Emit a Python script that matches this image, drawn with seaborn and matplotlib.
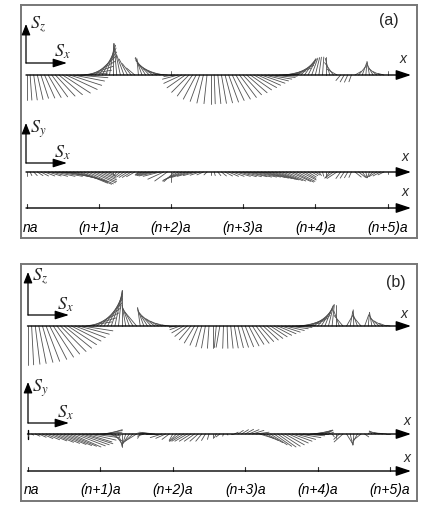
import numpy as np
import pandas as pd
import matplotlib
matplotlib.use("Agg")
import matplotlib.pyplot as plt
import seaborn as sns

sns.set_theme(style="white")
plt.rcParams["font.family"] = ["Liberation Sans", "DejaVu Sans"]
plt.rcParams["mathtext.fontset"] = "stix"

# ---------------- data ----------------
tick_labels = ["na", "(n+1)a", "(n+2)a", "(n+3)a", "(n+4)a", "(n+5)a"]
site_spacing = 0.05  # lattice site spacing in units of a

# panel (a): in-plane (x-z) angle of spin projection [deg], its length, and S_y
theta_xz_a = [-90, -86, -82, -77, -72, -66, -60, -54, -47, -40,
              -33, -25, -18, -11, -5, 4, 10, 19, 30, 42,
              52, 63, 72, 81, 90, 95, 102, 110, 118, 128,
              140, 95, 110, 122, 133, 143, 152, 160, 168, 175,
              90, -172, -165, -155, -145, -135, -126, -118, -110, -103,
              -96, -90, -88, -84, -80, -75, -70, -65, -59, -53,
              -47, -41, -35, -29, -24, -19, -14, -10, -6, -3,
              2, 6, 12, 18, 26, 35, 45, 55, 63, 70,
              76, 82, 86, 90, 105, 125, 150, -130, -120, -115,
              -110, 30, 50, 70, 85, 100, 120, 140, 155, 165,
              90]
rho_xz_a = [0.70, 0.70, 0.70, 0.70, 0.68, 0.70, 0.72, 0.75, 0.80, 0.85,
            0.92, 0.95, 0.93, 0.88, 0.86, 0.75, 0.77, 0.75, 0.77, 0.80,
            0.81, 0.84, 0.87, 0.88, 0.90, 0.82, 0.72, 0.60, 0.50, 0.40,
            0.30, 0.45, 0.52, 0.55, 0.55, 0.55, 0.55, 0.50, 0.45, 0.35,
            0.12, 0.30, 0.45, 0.55, 0.62, 0.68, 0.72, 0.76, 0.78, 0.80,
            0.80, 0.80, 0.80, 0.80, 0.80, 0.80, 0.80, 0.78, 0.78, 0.78,
            0.75, 0.75, 0.72, 0.72, 0.70, 0.70, 0.68, 0.66, 0.65, 0.60,
            0.55, 0.55, 0.55, 0.60, 0.62, 0.60, 0.60, 0.55, 0.50, 0.50,
            0.50, 0.50, 0.50, 0.50, 0.48, 0.42, 0.32, 0.20, 0.22, 0.22,
            0.20, 0.20, 0.30, 0.35, 0.38, 0.36, 0.33, 0.28, 0.22, 0.17,
            0.12]
sy_a = [-0.10, -0.10, -0.10, -0.10, -0.11, -0.11, -0.11, -0.12, -0.12, -0.12,
        -0.12, -0.17, -0.21, -0.24, -0.27, -0.31, -0.34, -0.33, -0.30, -0.27,
        -0.22, -0.17, -0.12, -0.08, -0.05, -0.10, -0.12, -0.14, -0.15, -0.15,
        -0.13, -0.05, -0.06, -0.08, -0.09, -0.10, -0.11, -0.12, -0.20, -0.25,
        -0.28, -0.27, -0.25, -0.22, -0.18, -0.15, -0.12, -0.10, -0.09, -0.08,
        -0.08, -0.08, -0.10, -0.10, -0.11, -0.11, -0.12, -0.12, -0.12, -0.13,
        -0.13, -0.13, -0.14, -0.14, -0.14, -0.15, -0.17, -0.18, -0.20, -0.21,
        -0.22, -0.24, -0.25, -0.26, -0.28, -0.26, -0.22, -0.18, -0.14, -0.10,
        -0.08, -0.10, -0.12, -0.14, -0.16, -0.17, -0.18, -0.18, -0.17, -0.16,
        -0.15, -0.14, -0.15, -0.16, -0.16, -0.16, -0.15, -0.13, -0.11, -0.08,
        -0.05]

# panel (b)
theta_xz_b = [-90, -87, -83, -79, -74, -69, -63, -57, -51, -45,
              -39, -33, -27, -21, -15, -9, 9, 17, 27, 37,
              47, 56, 64, 71, 78, 84, 90, 100, 110, 120,
              130, 98, 110, 122, 132, 142, 150, 158, 165, 172,
              180, -170, -160, -150, -140, -130, -121, -113, -106, -100,
              -94, -90, -95, -100, -92, -88, -84, -80, -76, -72,
              -68, -63, -58, -53, -48, -43, -38, -33, -28, -23,
              -18, -13, -8, -4, 2, 8, 14, 20, 28, 38,
              48, 58, 68, 76, 84, 90, 110, 130, 60, 80,
              92, 110, 130, 70, 85, 100, 120, 138, 150, 160,
              170]
rho_xz_b = [1.08, 1.08, 1.07, 1.06, 1.05, 1.05, 1.04, 1.03, 1.00, 1.00,
            0.98, 0.95, 0.92, 0.90, 0.88, 0.86, 0.73, 0.77, 0.80, 0.84,
            0.88, 0.91, 0.93, 0.955, 0.98, 0.99, 1.00, 0.60, 0.60, 0.55,
            0.50, 0.52, 0.52, 0.50, 0.48, 0.45, 0.40, 0.35, 0.28, 0.20,
            0.10, 0.20, 0.30, 0.38, 0.45, 0.50, 0.55, 0.58, 0.60, 0.62,
            0.62, 0.60, 0.60, 0.60, 0.62, 0.62, 0.62, 0.62, 0.62, 0.62,
            0.62, 0.62, 0.60, 0.60, 0.58, 0.57, 0.56, 0.55, 0.55, 0.55,
            0.55, 0.55, 0.55, 0.55, 0.55, 0.60, 0.62, 0.62, 0.62, 0.60,
            0.60, 0.60, 0.60, 0.60, 0.60, 0.58, 0.45, 0.38, 0.35, 0.42,
            0.45, 0.40, 0.35, 0.33, 0.38, 0.38, 0.35, 0.32, 0.28, 0.22,
            0.10]
sy_b = [-0.05, -0.03, -0.06, -0.09, -0.125, -0.16, -0.19, -0.23, -0.26, -0.29,
        -0.32, -0.34, -0.36, -0.33, -0.30, -0.27, -0.22, -0.17, -0.10, -0.05,
        0.05, 0.10, 0.12, -0.20, -0.28, -0.34, -0.36, -0.34, -0.30, -0.25,
        -0.20, -0.12, -0.06, 0.03, 0.05, 0.04, 0.00, -0.10, -0.12, -0.15,
        -0.18, -0.20, -0.20, -0.20, -0.20, -0.20, -0.20, -0.20, -0.20, -0.18,
        -0.15, -0.12, -0.10, -0.08, -0.06, -0.03, 0.00, 0.05, 0.10, 0.12,
        0.13, 0.12, 0.10, 0.05, -0.12, -0.18, -0.24, -0.30, -0.34, -0.36,
        -0.34, -0.30, -0.25, -0.20, -0.15, -0.10, -0.05, 0.00, 0.05, 0.08,
        0.10, 0.11, 0.10, 0.05, -0.08, -0.12, -0.15, -0.22, -0.28, -0.31,
        -0.30, -0.25, -0.18, -0.08, 0.04, 0.08, 0.08, 0.06, 0.04, 0.02,
        0.00]

# ---------------- figure ----------------
W, H = 436, 523
fig = plt.figure(figsize=(W / 100, H / 100), dpi=100)
NEEDLE_COLOR = "#505050"
L = 36.0  # px per unit spin component


def make_panel(frame, x0, ppa):
    l, t, r, b = frame
    ax = fig.add_axes([l / W, 1 - b / H, (r - l) / W, (b - t) / H])
    ax.set_facecolor("white")
    for s in ax.spines.values():
        s.set_visible(True)
        s.set_color("#777777")
        s.set_linewidth(1.4)
    X = lambda px: (px - x0) / ppa
    return ax, X, (X(l), X(r)), (b, t)


def needles(ax, pos, u, v, y_axis, ppa):
    n = len(pos)
    u = np.asarray(u, float)
    v = np.asarray(v, float)
    df = pd.DataFrame({
        "x": np.concatenate([pos, pos + L * u / ppa]),
        "y": np.concatenate([np.full(n, y_axis), y_axis - L * v]),
        "nid": np.concatenate([np.arange(n), np.arange(n)]),
        "end": np.concatenate([np.zeros(n), np.ones(n)]),
    }).sort_values(["nid", "end"], kind="stable")
    sns.lineplot(data=df, x="x", y="y", units="nid", estimator=None, sort=False,
                 color=NEEDLE_COLOR, lw=0.6, ax=ax, legend=False)


def arrow(ax, p1, p2, hl=0.7, hw=0.25, lw=1.0):
    ax.annotate("", xy=p2, xytext=p1,
                arrowprops=dict(arrowstyle=f"-|>,head_length={hl},head_width={hw}",
                                color="black", lw=lw, shrinkA=0, shrinkB=0),
                annotation_clip=False)


def draw_panel(frame, x0, ppa, theta, rho, sy, rows, icons, letter, letter_xy,
               xlab_pos, tick_y_lab, start_tick):
    ax, X, xl, yl = make_panel(frame, x0, ppa)
    th = np.deg2rad(np.asarray(theta, float))
    rho = np.asarray(rho, float)
    sx = rho * np.cos(th)
    sz = rho * np.sin(th)
    pos = np.arange(len(theta)) * site_spacing
    y1, y2, y3 = rows

    for yy in (y1, y2, y3):
        arrow(ax, (X(x0 - 0.5), yy), (X(411), yy), hl=0.75, hw=0.25, lw=1.0)
    if start_tick:
        ax.plot([X(x0), X(x0)], [y2 - 4, y2 + 5], color="black", lw=1.0)

    needles(ax, pos, sx, sz, y1, ppa)
    needles(ax, pos, sx, sy, y2, ppa)

    for k in range(len(tick_labels)):
        ax.plot([k, k], [y3, y3 - 4], color="#333333", lw=0.8)
    for k, lab in enumerate(tick_labels):
        if k == 0:
            ax.text(X(x0 - 4), tick_y_lab, lab, ha="left", va="center",
                    fontsize=10, style="italic", color="black")
        else:
            ax.text(k, tick_y_lab, lab, ha="center", va="center",
                    fontsize=10, style="italic", color="black")

    for (cx, cy, top, right, lab1, lab1_xy, lab2_xy) in icons:
        arrow(ax, (X(cx), cy), (X(cx), top), hl=0.55, hw=0.22, lw=0.9)
        arrow(ax, (X(cx), cy), (X(right), cy), hl=0.7, hw=0.22, lw=0.9)
        ax.text(X(lab1_xy[0]), lab1_xy[1], lab1, ha="left", va="center", fontsize=13)
        ax.text(X(lab2_xy[0]), lab2_xy[1], "$S_x$", ha="left", va="center", fontsize=13)

    for (px, py) in xlab_pos:
        ax.text(X(px), py, "x", ha="center", va="center", fontsize=10, style="italic")
    ax.text(X(letter_xy[0]), letter_xy[1], letter, ha="center", va="center", fontsize=11.5)

    ax.set_xlim(*xl)
    ax.set_ylim(*yl)
    ax.set_xticks([])
    ax.set_yticks([])
    ax.set_xlabel("")
    ax.set_ylabel("")
    return ax


draw_panel(frame=(20.5, 4.5, 416.5, 237.5), x0=26.5, ppa=72.2,
           theta=theta_xz_a, rho=rho_xz_a, sy=sy_a, rows=(75, 172, 208),
           icons=[(26, 63, 24, 67, "$S_z$", (30, 25), (54, 52)),
                  (26, 163, 123, 67, "$S_y$", (30, 129), (54, 153))],
           letter="(a)", letter_xy=(389, 21),
           xlab_pos=[(403, 59), (405, 157), (405, 192)],
           tick_y_lab=228, start_tick=False)

draw_panel(frame=(21, 263.5, 416.5, 500.5), x0=28, ppa=72.4,
           theta=theta_xz_b, rho=rho_xz_b, sy=sy_b, rows=(326, 434, 471),
           icons=[(28, 315, 272, 69, "$S_z$", (32, 277), (57, 305)),
                  (28, 423, 382, 69, "$S_y$", (32, 388), (57, 413))],
           letter="(b)", letter_xy=(396, 283),
           xlab_pos=[(404, 314), (407, 421), (407, 458)],
           tick_y_lab=490, start_tick=True)

fig.savefig("out.png", dpi=100, facecolor="white")
